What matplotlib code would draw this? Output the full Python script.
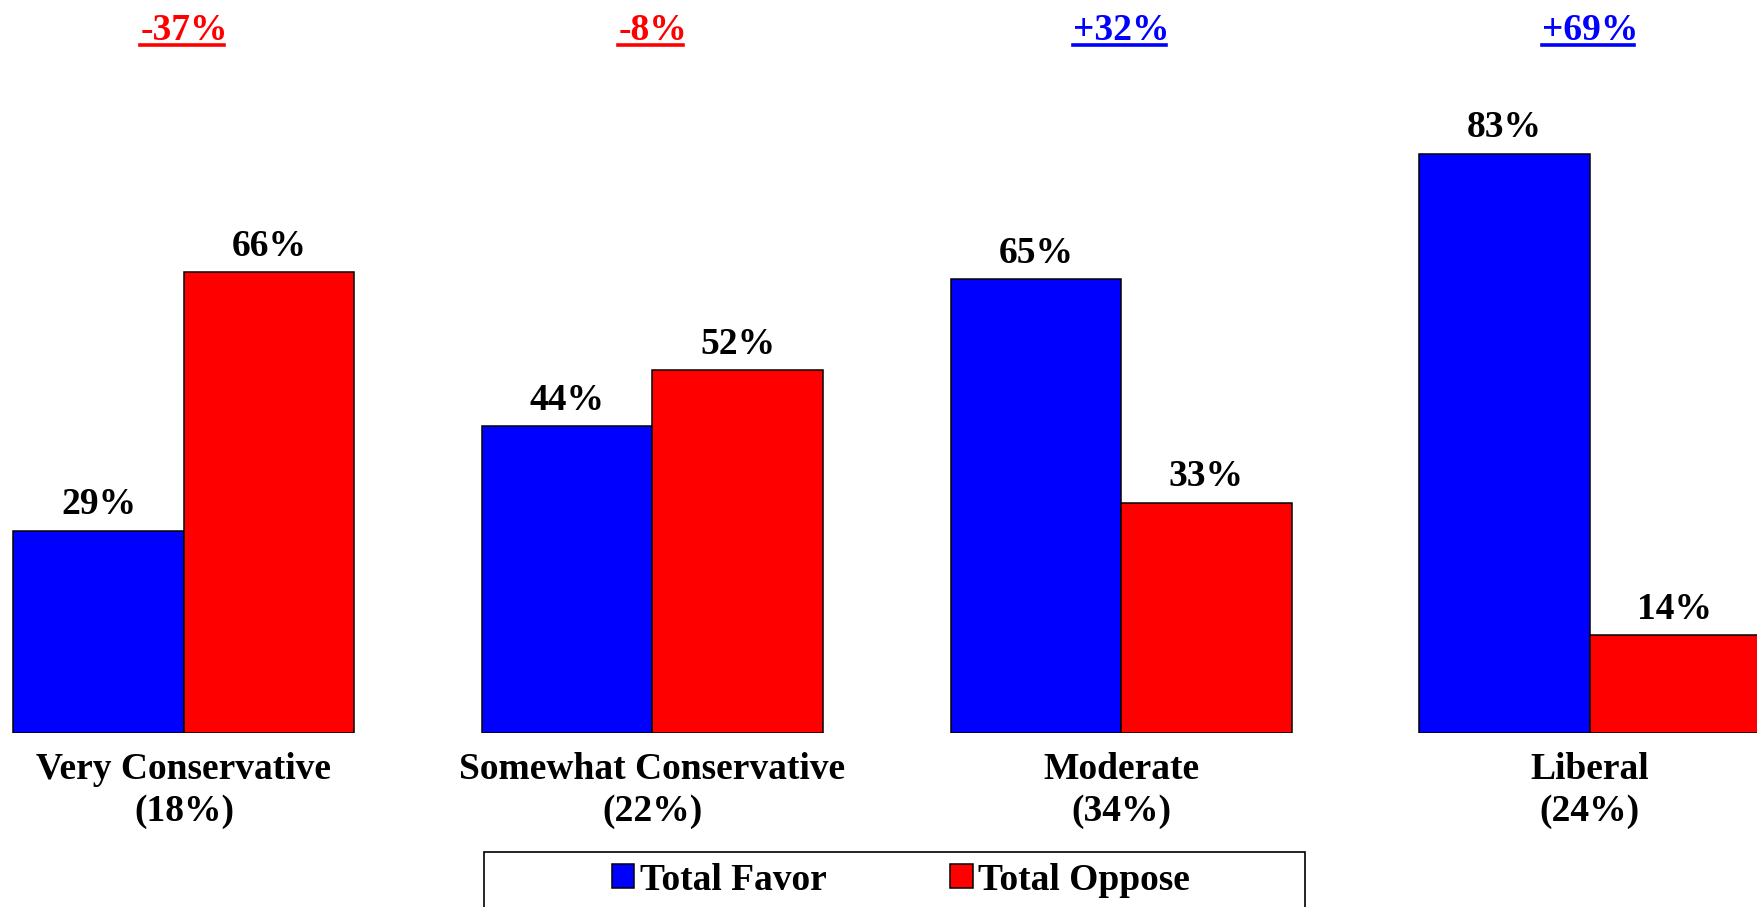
import matplotlib
matplotlib.use("Agg")
import matplotlib.pyplot as plt
import matplotlib.transforms as mtransforms
from matplotlib.patches import Rectangle, Patch
from matplotlib.lines import Line2D
import numpy as np

# data
categories = ['Very Conservative', 'Somewhat Conservative', 'Moderate', 'Liberal']
shares = ['18%', '22%', '34%', '24%']
favor = [29, 44, 65, 83]
oppose = [66, 52, 33, 14]

BLUE = '#0000FF'
RED = '#FF0000'
FS = 27

plt.rcParams['font.family'] = ['Liberation Serif', 'DejaVu Serif']
plt.rcParams['font.weight'] = 'bold'

W, H = 1758, 907
fig = plt.figure(figsize=(W / 100, H / 100), dpi=100)
base = 733
ppu = 6.98  # pixels per percent
ax = fig.add_axes([0, (H - base) / H, 1, 100 * ppu / H])

x = np.arange(len(categories))
bw = 0.3638
x0 = -183.9 / 468.6
ax.set_xlim(x0, x0 + W / 468.6)
ax.set_ylim(0, 100)

b1 = ax.bar(x - bw / 2, favor, bw, color=BLUE, edgecolor='black', linewidth=1.1)
b2 = ax.bar(x + bw / 2, oppose, bw, color=RED, edgecolor='black', linewidth=1.1)

for bars, vals in ((b1, favor), (b2, oppose)):
    for r, v in zip(bars, vals):
        ax.annotate(f'{v}%', (r.get_x() + r.get_width() / 2, v),
                    xytext=(0, 6), textcoords='offset points',
                    ha='center', va='bottom', fontsize=FS, fontweight='bold',
                    annotation_clip=False)

ax.set_xticks(x)
ax.set_xticklabels([f'{c}\n({s})' for c, s in zip(categories, shares)],
                   fontsize=FS, fontweight='bold', linespacing=1.28)
ax.tick_params(axis='x', length=0, pad=13.5)
ax.set_yticks([])
for s in ax.spines.values():
    s.set_visible(False)

# net difference labels, underlined
trans = mtransforms.blended_transform_factory(ax.transData, fig.transFigure)
net_texts = []
for xi, f, o in zip(x, favor, oppose):
    d = f - o
    col = RED if d < 0 else BLUE
    t = fig.text(xi, 1 - 40 / H, f'{d:+d}%', transform=trans, ha='center',
                 va='baseline', fontsize=FS, fontweight='bold', color=col)
    net_texts.append((t, col))

fig.canvas.draw()
rend = fig.canvas.get_renderer()
for t, col in net_texts:
    bb = t.get_window_extent(rend)
    y = 1 - 45 / H
    fig.add_artist(Line2D([bb.x0 / W, bb.x1 / W - 0.002], [y, y], color=col,
                          linewidth=2.6, transform=fig.transFigure))

# legend with box
fig.add_artist(Rectangle((484 / W, -0.05), (1305 - 484) / W, (H - 852) / H + 0.05,
                         transform=fig.transFigure, facecolor='white',
                         edgecolor='black', linewidth=1.2, zorder=1))
handles = [Patch(facecolor=BLUE, edgecolor='black', linewidth=1.1, label='Total Favor'),
           Patch(facecolor=RED, edgecolor='black', linewidth=1.1, label='Total Oppose')]
leg = fig.legend(handles=handles, loc='center', bbox_to_anchor=(901 / W, 1 - 880 / H),
                 ncol=2, frameon=False, handlelength=0.6,
                 handleheight=0.6, handletextpad=0.15, columnspacing=3.3,
                 prop={'weight': 'bold', 'size': FS})
leg.set_zorder(2)

fig.savefig('out.png', dpi=100)
